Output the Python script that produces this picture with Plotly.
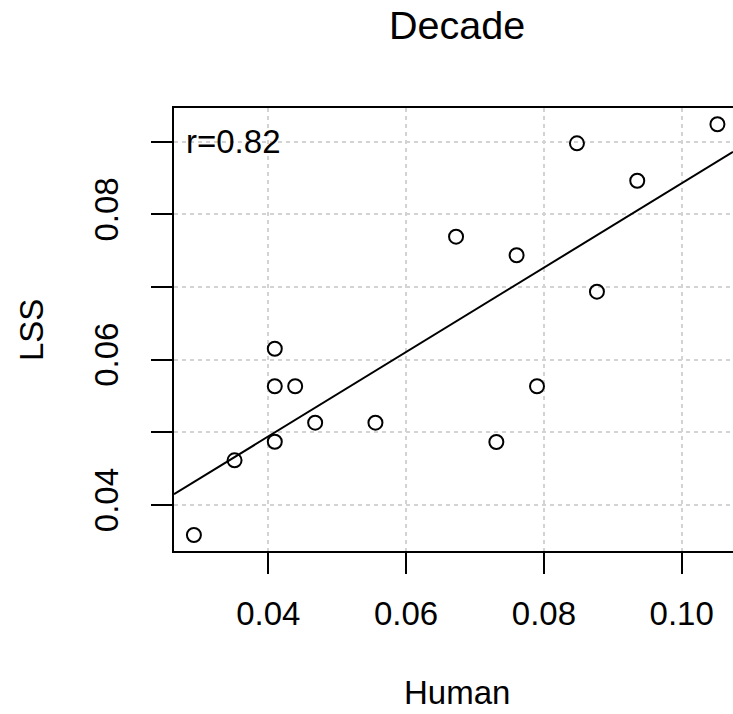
import numpy as np
import plotly.graph_objects as go

# Data
human = [0.02920, 0.03510, 0.04094, 0.04094, 0.04094, 0.04390, 0.04680, 0.05555,
         0.06725, 0.07310, 0.07604, 0.07900, 0.08480, 0.08770, 0.09355, 0.10519]
lss = [0.03587, 0.04615, 0.04871, 0.05634, 0.06151, 0.05634, 0.05133, 0.05133,
       0.07693, 0.04867, 0.07437, 0.05634, 0.08978, 0.06936, 0.08463, 0.09240]
x_ticks = [0.04, 0.06, 0.08, 0.10]
x_tick_labels = ["0.04", "0.06", "0.08", "0.10"]
y_ticks = [0.04, 0.05, 0.06, 0.07, 0.08, 0.09]
y_tick_labels = ["0.04", "", "0.06", "", "0.08", ""]
title_text = "Decade"
x_title = "Human"
y_title = "LSS"
r_label = "r=0.82"

x_range = [0.02631, 0.10745]
y_range = [0.03367, 0.09464]

slope, intercept = np.polyfit(human, lss, 1)
fit_x = np.array(x_range)
fit_y = intercept + slope * fit_x

FONT = "Liberation Sans, Arial, Helvetica, sans-serif"
W, H = 733, 714
ML, MR, MT, MB = 174, 0, 108, 163
PW, PH = W - ML - MR, H - MT - MB

def px_x(p):
    return (p - ML) / PW

def px_y(p):
    return (H - MB - p) / PH

fig = go.Figure()
fig.add_trace(go.Scatter(x=fit_x, y=fit_y, mode="lines",
                         line=dict(color="black", width=2), hoverinfo="skip",
                         showlegend=False))
fig.add_trace(go.Scatter(x=human, y=lss, mode="markers",
                         marker=dict(symbol="circle-open", size=14, color="black",
                                     line=dict(width=2, color="black")),
                         showlegend=False))

axis_common = dict(showline=True, linecolor="black", linewidth=2,
                   ticks="outside", ticklen=21, tickwidth=2, tickcolor="black",
                   showgrid=True, gridcolor="#d3d3d3", gridwidth=1.5,
                   griddash="4px,4px", zeroline=False,
                   tickfont=dict(family=FONT, size=33, color="black"))

fig.update_xaxes(range=x_range, tickvals=x_ticks, ticktext=x_tick_labels,
                 mirror=True, ticklabelstandoff=11, **axis_common)
fig.update_yaxes(range=y_range, tickvals=y_ticks, ticktext=y_tick_labels,
                 tickangle=-90, ticklabelstandoff=20, **axis_common)

annotations = [
    dict(text=title_text, x=px_x(457), y=px_y(25), xref="paper", yref="paper",
         showarrow=False, xanchor="center", yanchor="middle",
         font=dict(family=FONT, size=39.5, color="black")),
    dict(text=x_title, x=px_x(457), y=px_y(692), xref="paper", yref="paper",
         showarrow=False, xanchor="center", yanchor="middle",
         font=dict(family=FONT, size=33, color="black")),
    dict(text=y_title, x=px_x(31), y=px_y(330), xref="paper", yref="paper",
         showarrow=False, xanchor="center", yanchor="middle", textangle=-90,
         font=dict(family=FONT, size=33, color="black")),
    dict(text=r_label, x=px_x(184), y=px_y(141.7), xref="paper", yref="paper",
         showarrow=False, xanchor="left", yanchor="middle",
         font=dict(family=FONT, size=33, color="black")),
]

fig.update_layout(width=W, height=H, margin=dict(l=ML, r=MR, t=MT, b=MB, pad=0),
                  plot_bgcolor="white", paper_bgcolor="white",
                  annotations=annotations, showlegend=False)

fig.write_html("out.html")
